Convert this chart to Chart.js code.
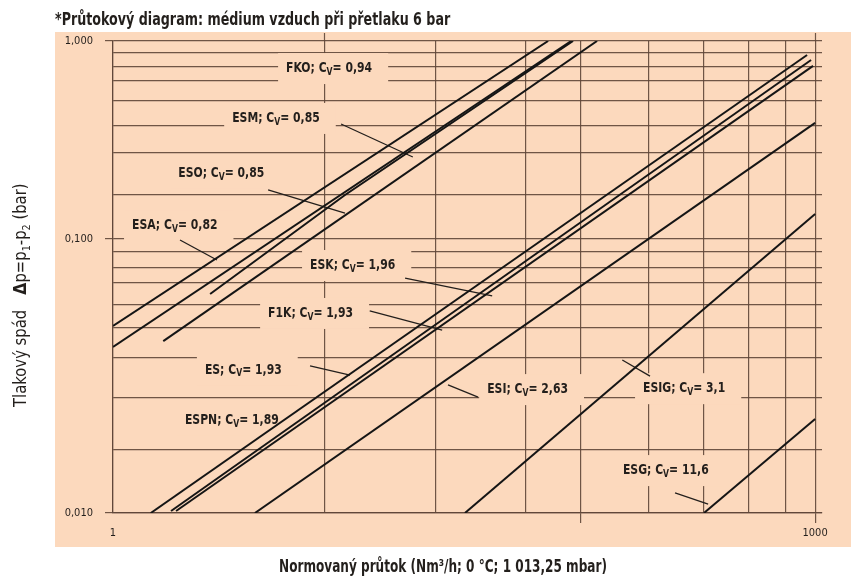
<!DOCTYPE html>
<html>
<head>
<meta charset="utf-8">
<script src="https://cdn.jsdelivr.net/npm/chart.js@4.4.1/dist/chart.umd.min.js"></script>
<style>
  html, body { margin: 0; padding: 0; background: #fff; }
  canvas { display: block; }
</style>
</head>
<body>
<canvas id="chart" width="851" height="576"></canvas>
<script>
// Values. Its grid is hand drawn and not exactly
// to scale, so grid positions are taken as drawn.
const xRange = [1, 1070];
const yRange = [0.01, 1];
const xGrid = [1, 8, 24, 58, 100, 195, 335, 520, 745, 1000];
const xTopTicks = [8, 1000];
const xLabelValues = [1, 1000];
const xLabelText = ['1', '1000'];
const yGrid = [1, 0.89, 0.78, 0.68, 0.56, 0.44, 0.335, 0.2226, 0.1449, 0.1276, 0.11, 0.0943, 0.0761, 0.0608, 0.0454, 0.0307, 0.0185, 0.01];
const yLabelValues = [1, 0.1449, 0.01];
const yLabelText = ['1,000', '0,100', '0,010'];

// one line per valve (ES and F1K share a line), points along each line
const lineNames = ['ESA', 'ESM', 'ESO', 'FKO', 'ESPN', 'ES/F1K', 'ESK', 'ESI', 'ESIG', 'ESG'];
const lineXs = [[1, 72.3], [1, 90.7], [2.6, 9.8, 92.4], [1.64, 117], [1.45, 924], [1.77, 961], [1.86, 980], [4.04, 1000], [31.9, 1000], [335, 1000]];
const lineYs = [[0.062, 1], [0.0505, 1], [0.0847, 0.2226, 1], [0.0535, 1], [0.01, 0.872], [0.0102, 0.831], [0.0102, 0.784], [0.01, 0.45], [0.01, 0.185], [0.01, 0.025]];

// labels: text, Cv, anchor (left, middle) and leader line
const labelNames = ['FKO', 'ESM', 'ESO', 'ESA', 'ESK', 'F1K', 'ES', 'ESPN', 'ESI', 'ESIG', 'ESG'];
const labelCv = ['0,94', '0,85', '0,85', '0,82', '1,96', '1,93', '1,93', '1,89', '2,63', '3,1', '11,6'];
const labelAt = [[5.49, 0.768], [3.23, 0.472], [1.9, 0.276], [1.206, 0.166], [6.95, 0.1124], [4.6, 0.0704], [2.47, 0.0404], [2.03, 0.0248], [39.7, 0.0335], [184, 0.0338], [151, 0.0152]];
const leaderFrom = [null, [9.43, 0.445], [4.6, 0.2337], [1.933, 0.1435], [17.7, 0.099], [12.5, 0.0718], [6.95, 0.042], null, [36.3, 0.031], [197, 0.038], [252, 0.01216]];
const leaderTo = [null, [19.1, 0.3225], [9.8, 0.1867], [2.78, 0.118], [41.7, 0.0831], [25.5, 0.0596], [10.3, 0.0384], null, [27, 0.0349], [150, 0.0445], [349, 0.0109]];

const PEACH = '#fcd9bd';
const GRID = 'rgba(95, 70, 55, 0.9)';
const INK = '#231f1c';
const FONT = "'DejaVu Sans Condensed', 'Liberation Sans', sans-serif";

// text runs [text, font, dy], squeezed horizontally by sx
function drawRuns(ctx, x, y, runs, sx) {
  for (const [text, font, dy] of runs) {
    ctx.font = font;
    ctx.save();
    ctx.translate(x, y + dy);
    ctx.scale(sx, 1);
    ctx.fillText(text, 0, 0);
    ctx.restore();
    x += ctx.measureText(text).width * sx;
  }
  return x;
}

function runsWidth(ctx, runs, sx) {
  let w = 0;
  for (const [text, font] of runs) {
    ctx.font = font;
    w += ctx.measureText(text).width * sx;
  }
  return w;
}

const backdrop = {
  id: 'backdrop',
  beforeDraw(chart) {
    const ctx = chart.ctx;
    ctx.save();
    ctx.fillStyle = '#fff';
    ctx.fillRect(0, 0, chart.width, chart.height);
    ctx.fillStyle = PEACH;
    ctx.fillRect(55, 32, chart.width - 55, 515);
    ctx.restore();
  },
  afterDraw(chart) {
    const ctx = chart.ctx, sx = chart.scales.x, top = chart.chartArea.top;
    ctx.save();
    ctx.strokeStyle = GRID;
    ctx.lineWidth = 1.2;
    xTopTicks.forEach(v => {
      const px = Math.round(sx.getPixelForValue(v)) + 0.5;
      ctx.beginPath();
      ctx.moveTo(px, top);
      ctx.lineTo(px, top - 8);
      ctx.stroke();
    });

    ctx.fillStyle = INK;
    ctx.textBaseline = 'alphabetic';
    drawRuns(ctx, 55, 25, [['*Průtokový diagram: médium vzduch při přetlaku 6 bar', 'bold 17px ' + FONT, 0]], 0.83);

    const xt = [['Normovaný průtok (Nm³/h; 0 °C; 1 013,25 mbar)', 'bold 17px ' + FONT, 0]];
    drawRuns(ctx, 443 - runsWidth(ctx, xt, 0.79) / 2, 572, xt, 0.79);

    ctx.translate(26, 407);
    ctx.rotate(-Math.PI / 2);
    const reg = '17px ' + FONT, sub = '11px ' + FONT;
    const x = drawRuns(ctx, 0, 0, [['Tlakový spád', reg, 0]], 0.97);
    drawRuns(ctx, x + 15, 0, [['Δ', 'bold 18px ' + FONT, 0], ['p=p', reg, 0], ['1', sub, 4], ['-p', reg, 0], ['2', sub, 4], [' (bar)', reg, 0]], 0.97);
    ctx.restore();
  }
};

const callouts = {
  id: 'callouts',
  beforeDatasetsDraw(chart) {
    const ctx = chart.ctx, sx = chart.scales.x, sy = chart.scales.y;
    const big = 'bold 14px ' + FONT, small = 'bold 10px ' + FONT;
    const items = labelNames.map((name, i) => ({
      px: sx.getPixelForValue(labelAt[i][0]),
      py: sy.getPixelForValue(labelAt[i][1]),
      runs: [[name + '; C', big, 0], ['V', small, 4], ['= ' + labelCv[i], big, 0]]
    }));
    ctx.save();
    // clear the grid behind each label first
    ctx.fillStyle = PEACH;
    items.forEach(it => {
      const w = runsWidth(ctx, it.runs, 0.86);
      ctx.fillRect(it.px - 8, it.py - 15, w + 24, 31);
    });
    ctx.textBaseline = 'middle';
    ctx.fillStyle = INK;
    ctx.strokeStyle = INK;
    ctx.lineWidth = 1.3;
    items.forEach((it, i) => {
      drawRuns(ctx, it.px, it.py, it.runs, 0.86);
      if (leaderFrom[i]) {
        ctx.beginPath();
        ctx.moveTo(sx.getPixelForValue(leaderFrom[i][0]), sy.getPixelForValue(leaderFrom[i][1]));
        ctx.lineTo(sx.getPixelForValue(leaderTo[i][0]), sy.getPixelForValue(leaderTo[i][1]));
        ctx.stroke();
      }
    });
    ctx.restore();
  }
};

const datasets = lineNames.map((name, i) => ({
  label: name,
  data: lineXs[i].map((x, k) => ({ x, y: lineYs[i][k] })),
  showLine: true,
  borderColor: '#151515',
  borderWidth: 2,
  pointRadius: 0,
  fill: false
}));

const labelIndex = (list, v) => list.findIndex(t => Math.abs(t - v) < 1e-9);

new Chart(document.getElementById('chart').getContext('2d'), {
  type: 'scatter',
  data: { datasets },
  options: {
    responsive: false,
    animation: false,
    layout: { padding: { left: 0, right: 29, top: 41, bottom: 0 } },
    plugins: { legend: { display: false }, tooltip: { enabled: false } },
    scales: {
      x: {
        type: 'logarithmic',
        min: xRange[0],
        max: xRange[1],
        afterBuildTicks: s => { s.ticks = xGrid.map(v => ({ value: v })); },
        afterFit: s => { s.height = 63; },
        grid: {
          color: GRID,
          lineWidth: 1.2,
          tickLength: 10,
          tickColor: c => (c.tick && (c.tick.value === 100 || c.tick.value === 1000)) ? GRID : 'rgba(0,0,0,0)'
        },
        border: { color: GRID, width: 1.2 },
        ticks: {
          autoSkip: false,
          maxRotation: 0,
          padding: 4,
          color: INK,
          font: { family: FONT, size: 11 },
          callback: v => { const k = labelIndex(xLabelValues, v); return k < 0 ? '' : xLabelText[k]; }
        }
      },
      y: {
        type: 'logarithmic',
        min: yRange[0],
        max: yRange[1],
        afterBuildTicks: s => { s.ticks = yGrid.map(v => ({ value: v })); },
        afterFit: s => { s.width = 113; },
        grid: {
          color: GRID,
          lineWidth: 1.2,
          tickLength: 8,
          tickColor: c => (c.tick && labelIndex(yLabelValues, c.tick.value) >= 0) ? GRID : 'rgba(0,0,0,0)'
        },
        border: { color: GRID, width: 1.2 },
        ticks: {
          autoSkip: false,
          padding: 12,
          color: INK,
          font: { family: FONT, size: 11 },
          callback: v => { const k = labelIndex(yLabelValues, v); return k < 0 ? '' : yLabelText[k]; }
        }
      }
    }
  },
  plugins: [backdrop, callouts]
});
</script>
</body>
</html>
